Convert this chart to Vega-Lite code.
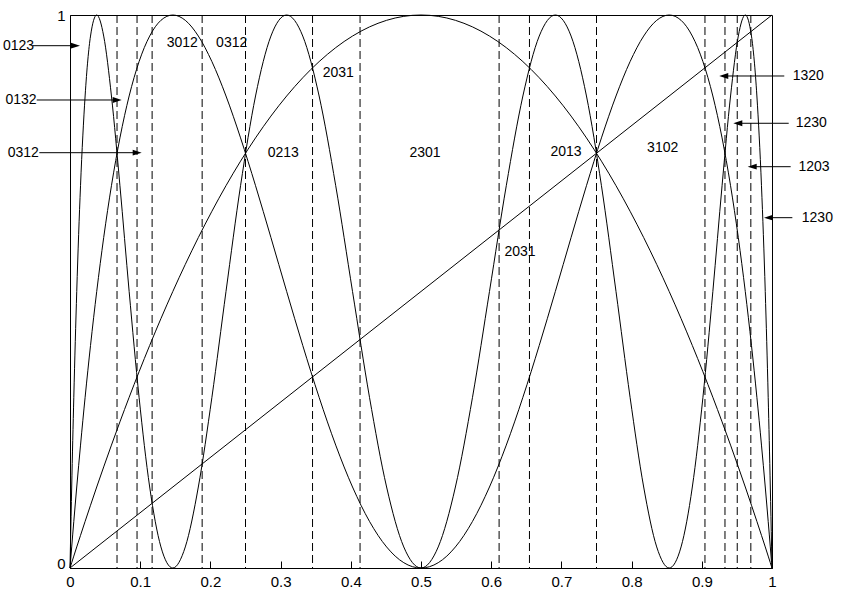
{
  "$schema": "https://vega.github.io/schema/vega-lite/v6.json",
  "autosize": "none",
  "width": 702,
  "height": 553,
  "padding": {"left": 70, "top": 15, "right": 73, "bottom": 24},
  "background": "white",
  "config": {
    "view": {"stroke": "black", "strokeWidth": 1},
    "axis": {"grid": false, "domainColor": "black", "tickColor": "black", "labelColor": "black", "labelFont": "Liberation Sans", "labelFontSize": 14, "title": null}
  },
  "datasets": {
    "curves": [
      {"x":0,"f1":0,"f2":0,"f3":0},
      {"x":0.000602,"f1":0.002408,"f2":0.009607,"f3":0.03806},
      {"x":0.002408,"f1":0.009607,"f2":0.03806,"f3":0.146447},
      {"x":0.005412,"f1":0.02153,"f2":0.084265,"f3":0.308658},
      {"x":0.009607,"f1":0.03806,"f2":0.146447,"f3":0.5},
      {"x":0.014984,"f1":0.059039,"f2":0.222215,"f3":0.691342},
      {"x":0.02153,"f1":0.084265,"f2":0.308658,"f3":0.853553},
      {"x":0.029228,"f1":0.113495,"f2":0.402455,"f3":0.96194},
      {"x":0.03806,"f1":0.146447,"f2":0.5,"f3":1},
      {"x":0.048005,"f1":0.182803,"f2":0.597545,"f3":0.96194},
      {"x":0.059039,"f1":0.222215,"f2":0.691342,"f3":0.853553},
      {"x":0.071136,"f1":0.264302,"f2":0.777785,"f3":0.691342},
      {"x":0.084265,"f1":0.308658,"f2":0.853553,"f3":0.5},
      {"x":0.098396,"f1":0.354858,"f2":0.915735,"f3":0.308658},
      {"x":0.113495,"f1":0.402455,"f2":0.96194,"f3":0.146447},
      {"x":0.129524,"f1":0.450991,"f2":0.990393,"f3":0.03806},
      {"x":0.146447,"f1":0.5,"f2":1,"f3":0},
      {"x":0.164221,"f1":0.549009,"f2":0.990393,"f3":0.03806},
      {"x":0.182803,"f1":0.597545,"f2":0.96194,"f3":0.146447},
      {"x":0.20215,"f1":0.645142,"f2":0.915735,"f3":0.308658},
      {"x":0.222215,"f1":0.691342,"f2":0.853553,"f3":0.5},
      {"x":0.242949,"f1":0.735698,"f2":0.777785,"f3":0.691342},
      {"x":0.264302,"f1":0.777785,"f2":0.691342,"f3":0.853553},
      {"x":0.286223,"f1":0.817197,"f2":0.597545,"f3":0.96194},
      {"x":0.308658,"f1":0.853553,"f2":0.5,"f3":1},
      {"x":0.331555,"f1":0.886505,"f2":0.402455,"f3":0.96194},
      {"x":0.354858,"f1":0.915735,"f2":0.308658,"f3":0.853553},
      {"x":0.37851,"f1":0.940961,"f2":0.222215,"f3":0.691342},
      {"x":0.402455,"f1":0.96194,"f2":0.146447,"f3":0.5},
      {"x":0.426635,"f1":0.97847,"f2":0.084265,"f3":0.308658},
      {"x":0.450991,"f1":0.990393,"f2":0.03806,"f3":0.146447},
      {"x":0.475466,"f1":0.997592,"f2":0.009607,"f3":0.03806},
      {"x":0.5,"f1":1,"f2":0,"f3":0},
      {"x":0.524534,"f1":0.997592,"f2":0.009607,"f3":0.03806},
      {"x":0.549009,"f1":0.990393,"f2":0.03806,"f3":0.146447},
      {"x":0.573365,"f1":0.97847,"f2":0.084265,"f3":0.308658},
      {"x":0.597545,"f1":0.96194,"f2":0.146447,"f3":0.5},
      {"x":0.62149,"f1":0.940961,"f2":0.222215,"f3":0.691342},
      {"x":0.645142,"f1":0.915735,"f2":0.308658,"f3":0.853553},
      {"x":0.668445,"f1":0.886505,"f2":0.402455,"f3":0.96194},
      {"x":0.691342,"f1":0.853553,"f2":0.5,"f3":1},
      {"x":0.713777,"f1":0.817197,"f2":0.597545,"f3":0.96194},
      {"x":0.735698,"f1":0.777785,"f2":0.691342,"f3":0.853553},
      {"x":0.757051,"f1":0.735698,"f2":0.777785,"f3":0.691342},
      {"x":0.777785,"f1":0.691342,"f2":0.853553,"f3":0.5},
      {"x":0.79785,"f1":0.645142,"f2":0.915735,"f3":0.308658},
      {"x":0.817197,"f1":0.597545,"f2":0.96194,"f3":0.146447},
      {"x":0.835779,"f1":0.549009,"f2":0.990393,"f3":0.03806},
      {"x":0.853553,"f1":0.5,"f2":1,"f3":0},
      {"x":0.870476,"f1":0.450991,"f2":0.990393,"f3":0.03806},
      {"x":0.886505,"f1":0.402455,"f2":0.96194,"f3":0.146447},
      {"x":0.901604,"f1":0.354858,"f2":0.915735,"f3":0.308658},
      {"x":0.915735,"f1":0.308658,"f2":0.853553,"f3":0.5},
      {"x":0.928864,"f1":0.264302,"f2":0.777785,"f3":0.691342},
      {"x":0.940961,"f1":0.222215,"f2":0.691342,"f3":0.853553},
      {"x":0.951995,"f1":0.182803,"f2":0.597545,"f3":0.96194},
      {"x":0.96194,"f1":0.146447,"f2":0.5,"f3":1},
      {"x":0.970772,"f1":0.113495,"f2":0.402455,"f3":0.96194},
      {"x":0.97847,"f1":0.084265,"f2":0.308658,"f3":0.853553},
      {"x":0.985016,"f1":0.059039,"f2":0.222215,"f3":0.691342},
      {"x":0.990393,"f1":0.03806,"f2":0.146447,"f3":0.5},
      {"x":0.994588,"f1":0.02153,"f2":0.084265,"f3":0.308658},
      {"x":0.997592,"f1":0.009607,"f2":0.03806,"f3":0.146447},
      {"x":0.999398,"f1":0.002408,"f2":0.009607,"f3":0.03806},
      {"x":1,"f1":0,"f2":0,"f3":0}
    ],
    "diag": [{"x":0,"y":0},{"x":1,"y":1}],
    "vlines": [
      {"x":0.066987},{"x":0.095492},{"x":0.116978},{"x":0.188255},{"x":0.25},
      {"x":0.345492},{"x":0.413176},{"x":0.61126},{"x":0.654508},{"x":0.75},
      {"x":0.904508},{"x":0.933013},{"x":0.950484},{"x":0.969846}
    ],
    "labels": [
      {"x":-0.0734,"y":0.9445,"t":"0123"},
      {"x":-0.0698,"y":0.8463,"t":"0132"},
      {"x":-0.0665,"y":0.751,"t":"0312"},
      {"x":0.16,"y":0.9488,"t":"3012"},
      {"x":0.2303,"y":0.9488,"t":"0312"},
      {"x":0.3822,"y":0.8946,"t":"2031"},
      {"x":0.3039,"y":0.75,"t":"0213"},
      {"x":0.5057,"y":0.75,"t":"2301"},
      {"x":0.7066,"y":0.7528,"t":"2013"},
      {"x":0.641,"y":0.572,"t":"2031"},
      {"x":0.8443,"y":0.759,"t":"3102"},
      {"x":1.0517,"y":0.8897,"t":"1320"},
      {"x":1.056,"y":0.8042,"t":"1230"},
      {"x":1.0598,"y":0.7257,"t":"1203"},
      {"x":1.0646,"y":0.6335,"t":"1230"}
    ],
    "arrows": [
      {"x":-0.0527,"x2":0.0078,"y":0.9445,"dir":"right"},
      {"x":-0.0474,"x2":0.0672,"y":0.8463,"dir":"right"},
      {"x":-0.0437,"x2":0.0957,"y":0.751,"dir":"right"},
      {"x":1.0175,"x2":0.9313,"y":0.8897,"dir":"left"},
      {"x":1.0238,"x2":0.9513,"y":0.8042,"dir":"left"},
      {"x":1.0266,"x2":0.9718,"y":0.7257,"dir":"left"},
      {"x":1.029,"x2":0.995,"y":0.6335,"dir":"left"}
    ]
  },
  "layer": [
    {
      "data": {"name": "vlines"},
      "mark": {"type": "rule", "color": "black", "strokeWidth": 1, "strokeDash": [8, 4]},
      "encoding": {
        "x": {"field": "x", "type": "quantitative", "scale": {"domain": [0, 1], "nice": false, "zero": false},
              "axis": {"values": [0,0.1,0.2,0.3,0.4,0.5,0.6,0.7,0.8,0.9,1], "format": "~g", "tickSize": -7, "labelPadding": 13, "labelFlush": false, "labelFontSize": 15}}
      }
    },
    {
      "data": {"name": "diag"},
      "mark": {"type": "line", "color": "black", "strokeWidth": 1},
      "encoding": {
        "x": {"field": "x", "type": "quantitative", "scale": {"domain": [0, 1], "nice": false}},
        "y": {"field": "y", "type": "quantitative", "scale": {"domain": [0, 1], "nice": false},
              "axis": {"values": [0, 1], "format": "~g", "ticks": false, "labelPadding": 5, "labelFontSize": 15, "labelFlush": false,
                       "labelBaseline": {"condition": {"test": "datum.value === 0", "value": "alphabetic"}, "value": "middle"}}}
      }
    },
    {
      "data": {"name": "curves"},
      "mark": {"type": "line", "color": "black", "strokeWidth": 1, "interpolate": "monotone"},
      "encoding": {
        "x": {"field": "x", "type": "quantitative"},
        "y": {"field": "f1", "type": "quantitative"}
      }
    },
    {
      "data": {"name": "curves"},
      "mark": {"type": "line", "color": "black", "strokeWidth": 1, "interpolate": "monotone"},
      "encoding": {
        "x": {"field": "x", "type": "quantitative"},
        "y": {"field": "f2", "type": "quantitative"}
      }
    },
    {
      "data": {"name": "curves"},
      "mark": {"type": "line", "color": "black", "strokeWidth": 1, "interpolate": "monotone"},
      "encoding": {
        "x": {"field": "x", "type": "quantitative"},
        "y": {"field": "f3", "type": "quantitative"}
      }
    },
    {
      "data": {"name": "arrows"},
      "mark": {"type": "rule", "color": "black", "strokeWidth": 1},
      "encoding": {
        "x": {"field": "x", "type": "quantitative"},
        "x2": {"field": "x2"},
        "y": {"field": "y", "type": "quantitative"}
      }
    },
    {
      "data": {"name": "arrows"},
      "mark": {"type": "point", "filled": true, "color": "black", "opacity": 1, "size": 81, "strokeWidth": 0},
      "encoding": {
        "x": {"field": "x2", "type": "quantitative"},
        "y": {"field": "y", "type": "quantitative"},
        "shape": {"field": "dir", "type": "nominal", "legend": null,
                  "scale": {"domain": ["right", "left"], "range": ["M-1,-0.65L1,0L-1,0.65Z", "M1,-0.65L-1,0L1,0.65Z"]}}
      }
    },
    {
      "data": {"name": "labels"},
      "mark": {"type": "text", "font": "Liberation Sans", "fontSize": 14, "color": "black", "align": "center", "baseline": "middle"},
      "encoding": {
        "x": {"field": "x", "type": "quantitative"},
        "y": {"field": "y", "type": "quantitative"},
        "text": {"field": "t", "type": "nominal"}
      }
    }
  ]
}
